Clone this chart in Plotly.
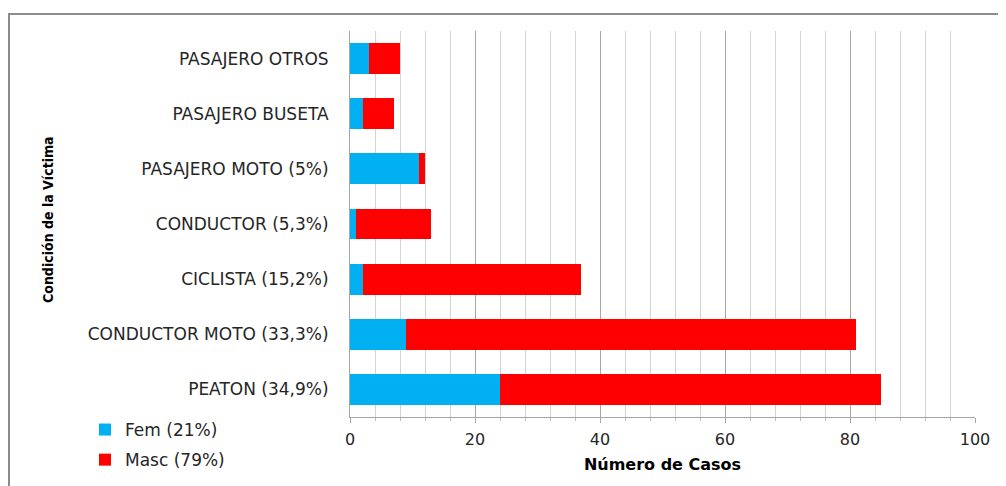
import plotly.graph_objects as go

categories = [
    "PEATON (34,9%)",
    "CONDUCTOR MOTO (33,3%)",
    "CICLISTA (15,2%)",
    "CONDUCTOR (5,3%)",
    "PASAJERO MOTO (5%)",
    "PASAJERO BUSETA",
    "PASAJERO OTROS",
]
fem = [24, 9, 2, 1, 11, 2, 3]
masc = [61, 72, 35, 12, 1, 5, 5]
series_names = ["Fem (21%)", "Masc (79%)"]
x_ticks = [0, 20, 40, 60, 80, 100]

OFF = 8  # page body margin
W, H = 1006 - OFF, 486 - OFF
L, T = 350 - OFF, 31 - OFF
R = W - (975 - OFF)
B = H - (417 - OFF)
pw, ph = W - L - R, H - T - B

def px_x(p):  # p in screen px
    return (p - OFF - L) / pw

def px_y(p):
    return (H - B - (p - OFF)) / ph

font_main = "DejaVu Sans, Open Sans, sans-serif"

fig = go.Figure()
fig.add_trace(go.Bar(y=categories, x=fem, name=series_names[0], orientation="h",
                     legendgroup="f",
                     marker=dict(color="#00B0F0", line=dict(width=0))))
fig.add_trace(go.Bar(y=categories, x=masc, name=series_names[1], orientation="h",
                     legendgroup="m",
                     marker=dict(color="#FF0000", line=dict(width=0))))

fig.update_layout(
    width=W, height=H,
    margin=dict(l=L, r=R, t=T, b=B, autoexpand=False),
    barmode="stack", bargap=0.44,
    plot_bgcolor="white", paper_bgcolor="white",
    font=dict(family=font_main, size=17, color="#262626"),
    showlegend=True,
    legend=dict(x=px_x(85), y=px_y(412), xanchor="left", yanchor="top",
                traceorder="grouped", font=dict(size=17, color="#262626"),
                itemwidth=30, tracegroupgap=5, bgcolor="rgba(0,0,0,0)"),
    xaxis=dict(
        range=[0, 100], tickvals=x_ticks, ticktext=[str(v) for v in x_ticks],
        showgrid=True, gridcolor="#a6a6a6", gridwidth=1,
        minor=dict(dtick=4, tick0=0, showgrid=True, gridcolor="#d3d3d3", gridwidth=1,
                   ticks="outside", ticklen=3, tickcolor="#bfbfbf"),
        showline=True, linecolor="#a6a6a6", linewidth=1,
        ticks="outside", ticklen=5, tickcolor="#a6a6a6",
        tickfont=dict(size=16, color="#262626"),
        ticklabelstandoff=3,
        zeroline=False,
        title=dict(text="<b>Número de Casos</b>",
                   font=dict(family="DejaVu Sans, sans-serif", size=16, color="#000000"),
                   standoff=10),
    ),
    yaxis=dict(
        categoryorder="array", categoryarray=categories,
        showgrid=False, showline=True, linecolor="#a6a6a6", linewidth=1,
        ticks="", tickfont=dict(size=17, color="#262626"),
        ticklabelstandoff=17,
    ),
    annotations=[dict(
        text="<b>Condición de la Víctima</b>", textangle=-90,
        xref="paper", yref="paper", x=px_x(48), y=px_y(220),
        xanchor="center", yanchor="middle", showarrow=False,
        font=dict(family="Liberation Sans Narrow, DejaVu Sans Condensed, sans-serif", size=14, color="#000000"),
    )],
    shapes=[dict(type="rect", xref="paper", yref="paper",
                 x0=px_x(9), x1=px_x(1015), y0=px_y(14), y1=px_y(495),
                 line=dict(color="#8c8c8c", width=2), layer="below")],
)

fig.write_html("out.html")
